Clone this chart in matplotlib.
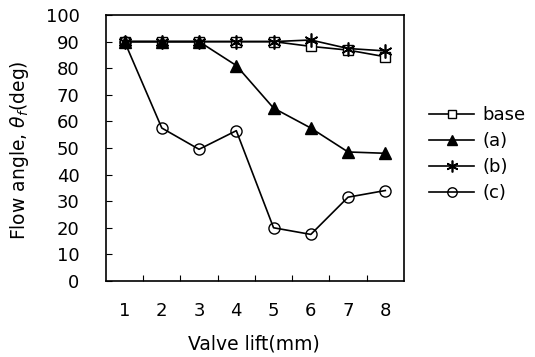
import matplotlib
matplotlib.use("Agg")
import matplotlib.pyplot as plt
from matplotlib.ticker import FixedLocator

plt.rcParams['font.family'] = ['DejaVu Sans']

lift = [1, 2, 3, 4, 5, 6, 7, 8]
base = [90, 90, 90, 90, 90, 88.2, 86.8, 84.3]
series_a = [90, 90, 90, 81, 65, 57.5, 48.5, 48]
series_b = [90, 90, 90, 90, 90, 90.6, 87.4, 86.5]
series_c = [90, 57.5, 49.5, 56.5, 20, 17.5, 31.5, 34]
yticks = [0, 10, 20, 30, 40, 50, 60, 70, 80, 90, 100]

fig = plt.figure(figsize=(5.35, 3.57), dpi=100)
ax = fig.add_axes([0.198, 0.213, 0.557, 0.745])

lw = 1.2
ax.plot(lift, base, color='black', lw=lw, marker='s', ms=7, mfc='white', mec='black', mew=1.0, label='base')
ax.plot(lift, series_a, color='black', lw=lw, marker='^', ms=8, mfc='black', mec='black', label='(a)')
ax.plot(lift, series_b, color='black', lw=lw, marker=(6, 2, 0), ms=10, mec='black', mew=1.2, label='(b)')
ax.plot(lift, series_c, color='black', lw=lw, marker='o', ms=8, mfc='none', mec='black', mew=1.0, label='(c)')

ax.set_xlim(0.5, 8.5)
ax.set_ylim(0, 100)
ax.set_xticks(lift)
ax.set_xticklabels([str(v) for v in lift])
ax.xaxis.set_minor_locator(FixedLocator([v + 0.5 for v in lift[:-1]]))
ax.set_yticks(yticks)
ax.tick_params(axis='x', which='major', length=0, pad=15, labelsize=13)
ax.tick_params(axis='x', which='minor', direction='in', length=4, width=0.8)
ax.tick_params(axis='y', which='major', direction='in', length=4, width=0.8, pad=19, labelsize=13)
ax.tick_params(axis='y', which='minor', length=0)
for s in ax.spines.values():
    s.set_linewidth(1.2)

ax.set_xlabel('Valve lift(mm)', fontsize=13.5)
ax.xaxis.set_label_coords(0.495, -0.2)
ax.xaxis.label.set_va('top')
ax.set_ylabel(r'Flow angle, $\theta_f$(deg)', fontsize=13.5)
ax.yaxis.set_label_coords(-0.25, 0.49)

ax.legend(loc='center left', bbox_to_anchor=(1.085, 0.477), frameon=False, fontsize=13,
          handlelength=2.5, handletextpad=0.45, labelspacing=0.45, borderaxespad=0.0,
          borderpad=0.0, markerscale=0.85)

fig.savefig('out.png', dpi=100)
